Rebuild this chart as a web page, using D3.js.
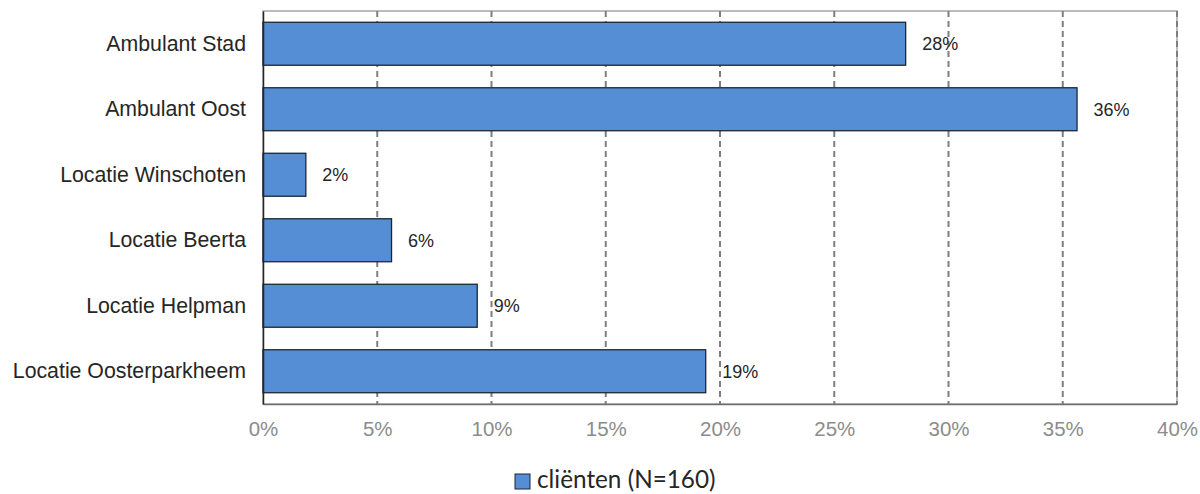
<!DOCTYPE html>
<html>
<head>
<meta charset="utf-8">
<script src="https://cdn.jsdelivr.net/npm/d3@7"></script>
<style>
  html, body { margin: 0; padding: 0; background: #fff; }
  svg { display: block; }
  .arial { font-family: Arial, "Liberation Sans", sans-serif; }
</style>
</head>
<body>
<svg id="chart" width="1200" height="494"></svg>
<script>
// Share of clients per location (N = 160), in percent
const categories = [
  "Ambulant Stad",
  "Ambulant Oost",
  "Locatie Winschoten",
  "Locatie Beerta",
  "Locatie Helpman",
  "Locatie Oosterparkheem"
];
const clientCounts = [45, 57, 3, 9, 15, 31];
const totalClients = 160;
const percentages = clientCounts.map(c => c / totalClients * 100);
const tickValues = [0, 5, 10, 15, 20, 25, 30, 35, 40];
const seriesName = "cliënten (N=160)";

const svg = d3.select("#chart");
const plotLeft = 263, plotRight = 1177, plotTop = 11, plotBottom = 404;

const x = d3.scaleLinear().domain([0, 40]).range([plotLeft, plotRight]);
const y = d3.scaleBand()
  .domain(categories)
  .range([plotTop, plotBottom])
  .paddingInner(0.344)
  .paddingOuter(0.172);

// plot frame
svg.append("rect")
  .attr("x", plotLeft).attr("y", plotTop)
  .attr("width", plotRight - plotLeft).attr("height", plotBottom - plotTop)
  .attr("fill", "none")
  .attr("stroke", "#a6a6a6")
  .attr("stroke-width", 1.5);

// dashed vertical gridlines
svg.append("g")
  .selectAll("line")
  .data(tickValues.filter(v => v > 0))
  .join("line")
  .attr("x1", d => x(d)).attr("x2", d => x(d))
  .attr("y1", plotTop).attr("y2", plotBottom)
  .attr("stroke", "#7f7f7f")
  .attr("stroke-width", 2)
  .attr("stroke-dasharray", "6,4");

// bars
svg.append("g")
  .selectAll("rect")
  .data(categories)
  .join("rect")
  .attr("x", x(0))
  .attr("y", d => y(d))
  .attr("width", (d, i) => x(percentages[i]) - x(0))
  .attr("height", y.bandwidth())
  .attr("fill", "#558ed5")
  .attr("stroke", "#1c2733")
  .attr("stroke-width", 1.3);

// value labels
svg.append("g")
  .selectAll("text")
  .data(categories)
  .join("text")
  .attr("class", "arial")
  .attr("x", (d, i) => x(percentages[i]) + 16.5)
  .attr("y", d => y(d) + y.bandwidth() / 2)
  .attr("dy", "0.36em")
  .attr("font-size", 18)
  .attr("fill", "#262626")
  .text((d, i) => Math.round(percentages[i]) + "%");

// percentage axis
const xAxis = svg.append("g")
  .attr("transform", `translate(0,${plotBottom})`)
  .call(d3.axisBottom(x).tickValues(tickValues).tickSize(0).tickPadding(17)
    .tickFormat(d => d + "%"));
xAxis.attr("font-family", null);
xAxis.select(".domain").attr("stroke", "#6f6f6f").attr("stroke-width", 1.5);
xAxis.selectAll("text")
  .attr("class", "arial")
  .attr("font-size", 20.5)
  .attr("fill", "#8c8c8c");

// category axis
const yAxis = svg.append("g")
  .attr("transform", `translate(${plotLeft},0)`)
  .call(d3.axisLeft(y).tickSize(0).tickPadding(17));
yAxis.attr("font-family", null);
yAxis.select(".domain").attr("stroke", "#262626").attr("stroke-width", 1.5);
yAxis.selectAll("text")
  .attr("class", "arial")
  .attr("font-size", 21.3)
  .attr("fill", "#262626");

// legend
const legend = svg.append("g").attr("transform", "translate(515,474)");
legend.append("rect")
  .attr("width", 15).attr("height", 15)
  .attr("fill", "#558ed5")
  .attr("stroke", "#1c2733")
  .attr("stroke-width", 1);
legend.append("text")
  .attr("x", 22).attr("y", 14)
  .attr("font-family", "Lato, 'Open Sans', sans-serif")
  .attr("font-size", 24.3)
  .attr("fill", "#262626")
  .text(seriesName);
</script>
</body>
</html>
